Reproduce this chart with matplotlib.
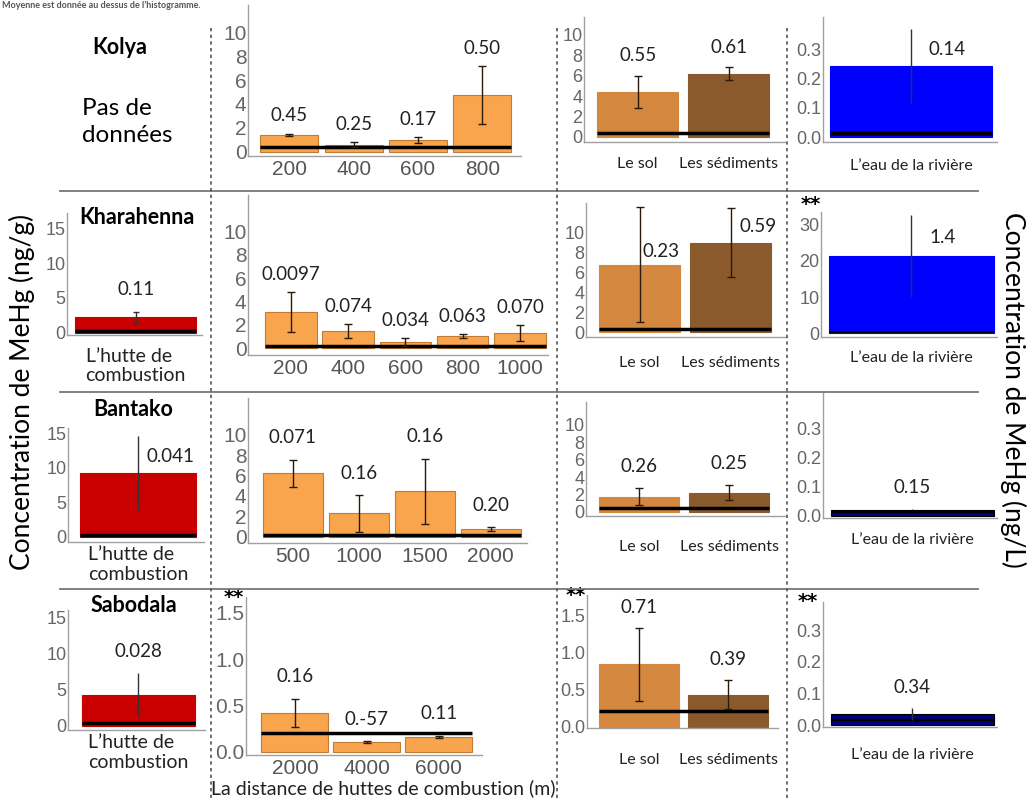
import numpy as np
import matplotlib
matplotlib.use("Agg")
import matplotlib.pyplot as plt
from matplotlib import font_manager
from matplotlib.lines import Line2D

# ---- data (MeHg, bar heights / error half-widths / printed means) ----
kolya_dist_x = ["200", "400", "600", "800"]
kolya_dist = [1.4, 0.6, 0.95, 4.75]
kolya_dist_err = [0.1, 0.2, 0.25, 2.4]
kolya_dist_txt = ["0.45", "0.25", "0.17", "0.50"]
kolya_soil = [4.4, 6.2]
kolya_soil_err = [1.6, 0.65]
kolya_soil_txt = ["0.55", "0.61"]
kolya_river = [0.243]
kolya_river_err = [0.125]
kolya_river_txt = ["0.14"]

khara_hut = [2.2]
khara_hut_err = [0.8]
khara_hut_txt = ["0.11"]
khara_dist_x = ["200", "400", "600", "800", "1000"]
khara_dist = [3.1, 1.45, 0.55, 1.05, 1.3]
khara_dist_err = [1.7, 0.6, 0.35, 0.2, 0.7]
khara_dist_txt = ["0.0097", "0.074", "0.034", "0.063", "0.070"]
khara_soil = [6.8, 9.0]
khara_soil_err = [5.75, 3.5]
khara_soil_txt = ["0.23", "0.59"]
khara_river = [21.4]
khara_river_err = [11.4]
khara_river_txt = ["1.4"]

bantako_hut = [9.3]
bantako_hut_err = [5.35]
bantako_hut_txt = ["0.041"]
bantako_dist_x = ["500", "1000", "1500", "2000"]
bantako_dist = [6.2, 2.3, 4.45, 0.75]
bantako_dist_err = [1.35, 1.8, 3.2, 0.18]
bantako_dist_txt = ["0.071", "0.16", "0.16", "0.20"]
bantako_soil = [1.75, 2.2]
bantako_soil_err = [1.0, 0.85]
bantako_soil_txt = ["0.26", "0.25"]
bantako_river = [0.022]
bantako_river_err = [0.003]
bantako_river_txt = ["0.15"]

sabodala_hut = [4.3]
sabodala_hut_err = [2.95]
sabodala_hut_txt = ["0.028"]
sabodala_dist_x = ["2000", "4000", "6000"]
sabodala_dist = [0.42, 0.1, 0.16]
sabodala_dist_err = [0.15, 0.01, 0.012]
sabodala_dist_txt = ["0.16", "0.-57", "0.11"]
sabodala_soil = [0.84, 0.43]
sabodala_soil_err = [0.49, 0.2]
sabodala_soil_txt = ["0.71", "0.39"]
sabodala_river = [0.035]
sabodala_river_err = [0.02]
sabodala_river_txt = ["0.34"]

# reference (background) level drawn as a black line over the bars
ref_levels = {"kolya": [0.4, 0.4, 0.013], "khara": [0.3, 0.2, 0.3, 0.4],
              "bantako": [0.25, 0.17, 0.45, 0.015], "sabodala": [0.4, 0.2, 0.215, 0.015]}

soil_x = ["Le sol", "Les sédiments"]
hut_x = ["L\u2019hutte de\ncombustion"]
river_x = ["L\u2019eau de la rivière"]

ORANGE = "#F9A54E"
SOL = "#D4873F"
SED = "#8A5A2C"
RED = "#C80000"
BLUE = "#0000FF"
NAVY = "#00007A"

names = {f.name for f in font_manager.fontManager.ttflist}
NARROW = "Liberation Sans Narrow" if "Liberation Sans Narrow" in names else "Liberation Sans"
CAL = "Lato"

W, H = 1031, 798
fig = plt.figure(figsize=(W / 100, H / 100), dpi=100)


def px_axes(x0, y0, x1, y1, ylim, xlim, yticks, yfmt, tfont, tsize):
    ax = fig.add_axes([x0 / W, 1 - y1 / H, (x1 - x0) / W, (y1 - y0) / H])
    for s in ["top", "right"]:
        ax.spines[s].set_visible(False)
    for s in ["left", "bottom"]:
        ax.spines[s].set_color("#a0a0a0")
        ax.spines[s].set_linewidth(1.0)
    ax.set_ylim(*ylim)
    ax.set_xlim(*xlim)
    ax.set_yticks(yticks)
    ax.set_yticklabels([yfmt.format(t) for t in yticks], family=tfont, fontsize=tsize, color="#666666")
    ax.tick_params(axis="y", length=0, pad=1)
    ax.tick_params(axis="x", length=0)
    ax.set_facecolor("none")
    return ax


def draw_bars(ax, vals, errs, colors, width, ref, ref_lw=2.5, capsize=3, ecolor="#2a1a0a", edge=None):
    x = np.arange(len(vals))
    ax.bar(x, vals, width, color=colors, edgecolor=edge if edge else colors, linewidth=0.8, zorder=2)
    ax.hlines(ref, x[0] - width / 2, x[-1] + width / 2, color="black", lw=ref_lw, zorder=3)
    ax.errorbar(x, vals, yerr=errs, fmt="none", ecolor=ecolor, elinewidth=1.0, capsize=capsize,
                capthick=1.0, zorder=4)


def value_labels(ax, vals, errs, texts, frac, moves=None):
    lo, hi = ax.get_ylim()
    moves = moves or {}
    for i, (v, e, t) in enumerate(zip(vals, errs, texts)):
        dx, y = moves.get(i, (0, v + e + frac * (hi - lo)))
        ax.text(i + dx, y, t, ha="center", va="center", family=CAL, fontsize=13.5, color="#222222", zorder=5)


def xlabels(ax, labels, pad, size, font=CAL, color="#222222"):
    ax.set_xticks(range(len(labels)))
    ax.set_xticklabels(labels, family=font, fontsize=size, color=color, multialignment="left")
    ax.tick_params(axis="x", pad=pad)


def stars(ax, x_off, y_off=1.0):
    ax.text(x_off, y_off, "**", transform=ax.transAxes, ha="center", va="center", fontsize=14, weight="bold")


# ---------------- Kolya ----------------
ax = px_axes(248, 5, 521, 156, (-0.36, 12.3), (-0.64, 3.6), range(0, 11, 2), "{}", "Liberation Sans", 15)
draw_bars(ax, kolya_dist, kolya_dist_err, ORANGE, 0.9, ref_levels["kolya"][0], edge="#C27A34")
value_labels(ax, kolya_dist, kolya_dist_err, kolya_dist_txt, 0.12)
xlabels(ax, kolya_dist_x, 3, 15, "Liberation Sans", "#555555")

ax = px_axes(584, 17, 785, 142, (-0.5, 11.76), (-0.59, 1.62), range(0, 11, 2), "{}", NARROW, 13)
draw_bars(ax, kolya_soil, kolya_soil_err, [SOL, SED], 0.89, ref_levels["kolya"][1])
value_labels(ax, kolya_soil, kolya_soil_err, kolya_soil_txt, 0.16)
xlabels(ax, soil_x, 11, 11.5)

ax = px_axes(823, 17, 997, 142, (-0.0167, 0.41), (-0.543, 0.53), [0, 0.1, 0.2, 0.3], "{:.1f}", NARROW, 13)
draw_bars(ax, kolya_river, kolya_river_err, BLUE, 1.0, ref_levels["kolya"][2], ref_lw=3.5, capsize=0, ecolor="#333333")
value_labels(ax, kolya_river, kolya_river_err, kolya_river_txt, 0.1, {0: (0.22, 0.30)})
xlabels(ax, river_x, 12, 11.5)

# ---------------- Kharahenna ----------------
ax = px_axes(67, 213, 202, 335, (-0.33, 17.2), (-0.54, 0.52), [0, 5, 10, 15], "{}", NARROW, 13)
draw_bars(ax, khara_hut, khara_hut_err, RED, 0.95, ref_levels["khara"][0], capsize=2, ecolor="#333333")
value_labels(ax, khara_hut, khara_hut_err, khara_hut_txt, 0.18)
xlabels(ax, hut_x, 9, 14)

ax = px_axes(248, 195, 548, 355, (-0.57, 13.1), (-0.75, 4.49), range(0, 11, 2), "{}", "Liberation Sans", 15)
draw_bars(ax, khara_dist, khara_dist_err, ORANGE, 0.9, ref_levels["khara"][1], edge="#C27A34")
value_labels(ax, khara_dist, khara_dist_err, khara_dist_txt, 0.11)
xlabels(ax, khara_dist_x, 3, 15, "Liberation Sans", "#555555")

ax = px_axes(586, 203, 787, 337, (-0.5, 13.0), (-0.59, 1.62), range(0, 11, 2), "{}", NARROW, 13)
draw_bars(ax, khara_soil, khara_soil_err, [SOL, SED], 0.89, ref_levels["khara"][2])
value_labels(ax, khara_soil, khara_soil_err, khara_soil_txt, 0.16, {0: (0.24, 8.1), 1: (0.3, 10.6)})
xlabels(ax, soil_x, 14, 11.5)

ax = px_axes(821, 212, 997, 337, (-1.1, 33.6), (-0.55, 0.52), [0, 10, 20, 30], "{}", NARROW, 13)
draw_bars(ax, khara_river, khara_river_err, BLUE, 1.0, ref_levels["khara"][3], ref_lw=1.5, capsize=0, ecolor="#333333")
value_labels(ax, khara_river, khara_river_err, khara_river_txt, 0.1, {0: (0.19, 26.4)})
xlabels(ax, river_x, 10, 11.5)
stars(ax, -0.06, 1.06)

# ---------------- Bantako ----------------
ax = px_axes(68, 428, 204, 542, (-0.77, 15.8), (-0.57, 0.54), [0, 5, 10, 15], "{}", NARROW, 13)
draw_bars(ax, bantako_hut, bantako_hut_err, RED, 0.95, ref_levels["bantako"][0], capsize=0, ecolor="#333333")
value_labels(ax, bantako_hut, bantako_hut_err, bantako_hut_txt, 0.18, {0: (0.27, 11.6)})
xlabels(ax, hut_x, 3, 14)

ax = px_axes(248, 398, 527, 543, (-0.62, 13.6), (-0.68, 3.55), range(0, 11, 2), "{}", "Liberation Sans", 15)
draw_bars(ax, bantako_dist, bantako_dist_err, ORANGE, 0.91, ref_levels["bantako"][1], edge="#C27A34")
value_labels(ax, bantako_dist, bantako_dist_err, bantako_dist_txt, 0.15)
xlabels(ax, bantako_dist_x, 3, 15, "Liberation Sans", "#555555")

ax = px_axes(586, 402, 785, 516, (-0.46, 12.6), (-0.59, 1.62), range(0, 11, 2), "{}", NARROW, 13)
draw_bars(ax, bantako_soil, bantako_soil_err, [SOL, SED], 0.89, ref_levels["bantako"][2])
value_labels(ax, bantako_soil, bantako_soil_err, bantako_soil_txt, 0.19)
xlabels(ax, soil_x, 17, 11.5)

ax = px_axes(823, 393, 997, 518, (-0.007, 0.42), (-0.55, 0.52), [0, 0.1, 0.2, 0.3], "{:.1f}", NARROW, 13)
draw_bars(ax, bantako_river, bantako_river_err, NAVY, 1.0, ref_levels["bantako"][3], ref_lw=1.5, capsize=0,
          ecolor="#333333", edge="black")
value_labels(ax, bantako_river, bantako_river_err, bantako_river_txt, 0.17)
xlabels(ax, river_x, 11, 11.5)

# ---------------- Sabodala ----------------
ax = px_axes(68, 610, 205, 730, (-0.56, 16.0), (-0.59, 0.56), [0, 5, 10, 15], "{}", NARROW, 13)
draw_bars(ax, sabodala_hut, sabodala_hut_err, RED, 0.95, ref_levels["sabodala"][0], capsize=0, ecolor="#333333")
value_labels(ax, sabodala_hut, sabodala_hut_err, sabodala_hut_txt, 0.18)
xlabels(ax, hut_x, 3, 14)

ax = px_axes(246, 597, 482, 755, (-0.036, 1.67), (-0.68, 2.6), [0, 0.5, 1.0, 1.5], "{:.1f}", "Liberation Sans", 15)
draw_bars(ax, sabodala_dist, sabodala_dist_err, ORANGE, 0.93, ref_levels["sabodala"][1], edge="#C27A34")
value_labels(ax, sabodala_dist, sabodala_dist_err, sabodala_dist_txt, 0.14)
xlabels(ax, sabodala_dist_x, 3, 15, "Liberation Sans", "#555555")
stars(ax, -0.05)

ax = px_axes(587, 595, 778, 728, (-0.02, 1.77), (-0.58, 1.56), [0, 0.5, 1.0, 1.5], "{:.1f}", NARROW, 13)
draw_bars(ax, sabodala_soil, sabodala_soil_err, [SOL, SED], 0.9, ref_levels["sabodala"][2])
value_labels(ax, sabodala_soil, sabodala_soil_err, sabodala_soil_txt, 0.15)
xlabels(ax, soil_x, 18, 11.5)
stars(ax, -0.06)

ax = px_axes(823, 602, 997, 727, (-0.006, 0.39), (-0.55, 0.52), [0, 0.1, 0.2, 0.3], "{:.1f}", NARROW, 13)
draw_bars(ax, sabodala_river, sabodala_river_err, NAVY, 1.0, ref_levels["sabodala"][3], ref_lw=1.5, capsize=0,
          ecolor="#333333", edge="black")
value_labels(ax, sabodala_river, sabodala_river_err, sabodala_river_txt, 0.16)
xlabels(ax, river_x, 15, 11.5)
stars(ax, -0.09)

# ---- figure decorations ----
for y in [191, 392, 589]:
    fig.add_artist(Line2D([60 / W, 978 / W], [1 - y / H] * 2, color="#777777", lw=1.3))
for x in [211, 557, 787]:
    fig.add_artist(Line2D([x / W] * 2, [0, 1 - 25 / H], color="#555555", lw=1.2, ls=(0, (2, 2))))

row_names = [("Kolya", 120, 47), ("Kharahenna", 137, 218), ("Bantako", 133, 410), ("Sabodala", 134, 605)]
for name, x, y in row_names:
    fig.text(x / W, 1 - y / H, name, ha="center", va="center", family=CAL, fontsize=15.5, weight="bold")
fig.text(82 / W, 1 - 122 / H, "Pas de\ndonnées", ha="left", va="center", family=CAL, fontsize=17.5,
         linespacing=1.3)

fig.text(383 / W, 1 - 788 / H, "La distance de huttes de combustion (m)", ha="center", va="center",
         family=CAL, fontsize=14, color="#222222")

fig.text(22 / W, 1 - 392 / H, "Concentration de MeHg (ng/g)", rotation=90, ha="center", va="center",
         family=CAL, fontsize=19)
fig.text(1013 / W, 1 - 390 / H, "Concentration de MeHg (ng/L)", rotation=270, ha="center", va="center",
         family=CAL, fontsize=19)

# caption line (only partly visible in the source image), kept small so it fits
fig.text(2 / W, 1 - 1 / H, "Moyenne est donnée au dessus de l\u2019histogramme.", ha="left", va="top",
         family=CAL, fontsize=6.5, weight="bold", color="#555555")

fig.savefig("out.png", dpi=100)
